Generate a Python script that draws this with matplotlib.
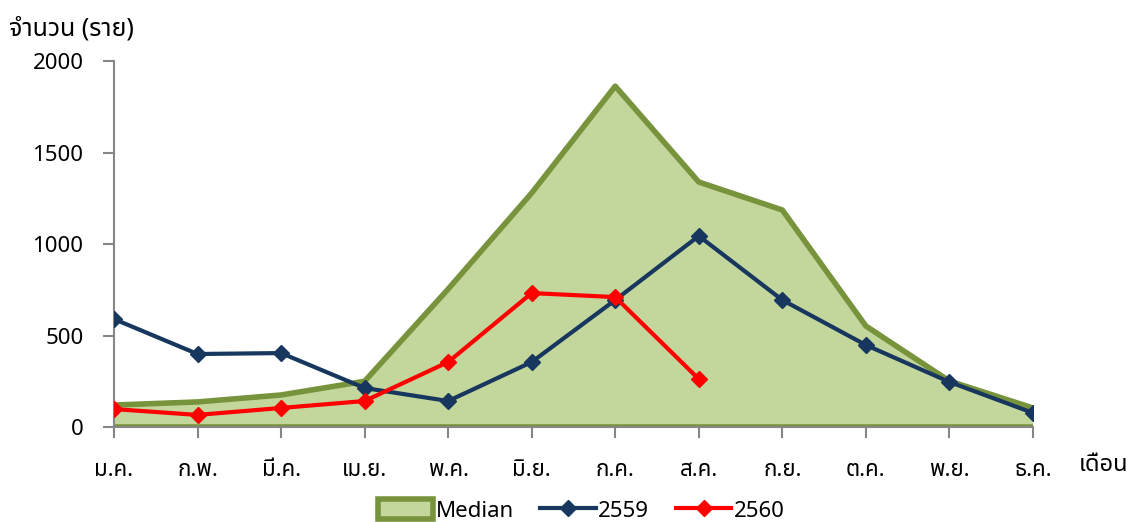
import matplotlib
matplotlib.use('Agg')
import matplotlib.pyplot as plt
from matplotlib.patches import Patch
from matplotlib.lines import Line2D
import numpy as np

plt.rcParams['font.family'] = ['Noto Sans Thai', 'Sarabun', 'DejaVu Sans']

months = ['ม.ค.', 'ก.พ.', 'มี.ค.', 'เม.ย.', 'พ.ค.', 'มิ.ย.',
          'ก.ค.', 'ส.ค.', 'ก.ย.', 'ต.ค.', 'พ.ย.', 'ธ.ค.']
median = [120, 137, 175, 250, 754, 1279, 1863, 1339, 1186, 552, 251, 104]
y2559 = [590, 399, 404, 213, 142, 355, 694, 1044, 694, 448, 246, 77]
y2560 = [98, 66, 104, 142, 355, 732, 710, 262]

x = np.arange(len(months))

fig = plt.figure(figsize=(11.33, 5.22), dpi=100)
ax = fig.add_axes([0.1006, 0.182, 0.8111, 0.701])

green_edge = '#77933C'
green_fill = '#C3D69B'

# median area
ax.fill_between(x, median, 0, facecolor=green_fill, edgecolor='none', zorder=1)
ax.plot(x, median, color=green_edge, lw=4, zorder=2)
ax.plot([x[0], x[-1]], [0, 0], color=green_edge, lw=4, zorder=2)
ax.plot(x, y2559, color='#17375E', lw=3, marker='D', ms=8, zorder=3)
ax.plot(np.arange(len(y2560)), y2560, color='#FF0000', lw=3, marker='D', ms=8, zorder=4)

ax.set_xlim(0, 11)
ax.set_ylim(0, 2000)
ax.set_yticks([0, 500, 1000, 1500, 2000])
ax.set_xticks(x)
ax.set_xticklabels(months)
ax.tick_params(axis='both', labelsize=16, color='#868686', length=8, width=1.5)
ax.tick_params(axis='x', pad=16)
ax.tick_params(axis='y', pad=14)
for s in ['top', 'right']:
    ax.spines[s].set_visible(False)
for s in ['left', 'bottom']:
    ax.spines[s].set_color('#868686')
    ax.spines[s].set_linewidth(1.5)

fig.text(0.008, 0.945, 'จำนวน (ราย)', fontsize=18, va='center', ha='left')
fig.text(0.952, 0.11, 'เดือน', fontsize=17, va='center', ha='left')

handles = [Patch(facecolor=green_fill, edgecolor=green_edge, lw=4),
           Line2D([], [], color='#17375E', lw=3, marker='D', ms=8),
           Line2D([], [], color='#FF0000', lw=3, marker='D', ms=8)]
fig.legend(handles, ['Median', '2559', '2560'], loc='center',
           bbox_to_anchor=(0.513, 0.022), ncol=3, frameon=False, fontsize=16,
           handlelength=2.5, handleheight=1.0, handletextpad=0.1,
           columnspacing=1.2)

fig.savefig('out.png', dpi=100)
